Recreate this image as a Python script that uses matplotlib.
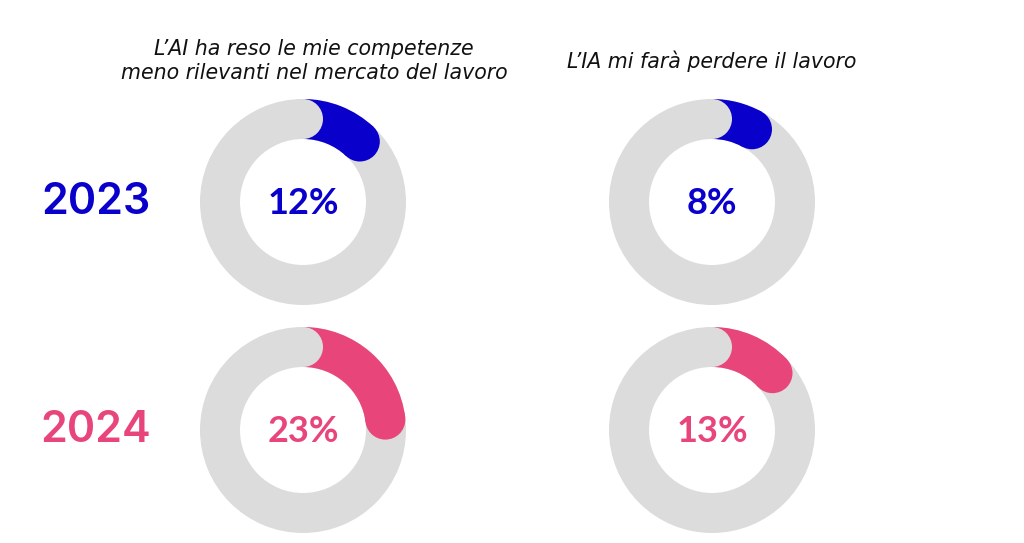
import matplotlib.pyplot as plt
from matplotlib.patches import Wedge, Circle
import numpy as np

years = ["2023", "2024"]
questions = ["L’AI ha reso le mie competenze\nmeno rilevanti nel mercato del lavoro",
             "L’IA mi farà perdere il lavoro"]
# rows = years, cols = questions
values = [[12, 8],
          [23, 13]]
year_colors = ["#0A00CC", "#E8467A"]
ring_gray = "#DCDCDC"

fig = plt.figure(figsize=(10.24, 5.43), dpi=100)
ax = fig.add_axes([0, 0, 1, 1])
ax.set_xlim(0, 1024)
ax.set_ylim(543, 0)
ax.set_aspect("equal")
ax.axis("off")

col_x = [303, 712]
row_y = [202, 430]
r_out = 103
width = 40
r_mid = r_out - width / 2


def point_at(cx, cy, deg):
    # deg measured clockwise from 12 o'clock, y axis points down
    a = np.radians(deg)
    return cx + r_mid * np.sin(a), cy - r_mid * np.cos(a)


for i, year in enumerate(years):
    for j in range(len(questions)):
        cx, cy = col_x[j], row_y[i]
        pct = values[i][j]
        sweep = pct / 100 * 360
        # full gray ring
        ax.add_patch(Wedge((cx, cy), r_out, 0, 360, width=width,
                           facecolor=ring_gray, edgecolor="none"))
        # coloured arc (angles in matplotlib are ccw from +x; y is flipped)
        t1 = -90
        t2 = -90 + sweep
        ax.add_patch(Wedge((cx, cy), r_out, t1, t2, width=width,
                           facecolor=year_colors[i], edgecolor="none"))
        ex, ey = point_at(cx, cy, sweep)
        ax.add_patch(Circle((ex, ey), width / 2, facecolor=year_colors[i],
                            edgecolor="none"))
        # gray round cap at the start, on top of the arc
        sx, sy = point_at(cx, cy, 0)
        ax.add_patch(Circle((sx, sy), width / 2, facecolor=ring_gray,
                            edgecolor="none"))
        ax.text(cx, cy + 1, f"{pct}%", ha="center", va="center",
                fontsize=26, fontweight="bold", color=year_colors[i],
                family="Lato")

    ax.text(96, row_y[i], year, ha="center", va="center", fontsize=31,
            fontweight="semibold", color=year_colors[i], family="Inter")

ax.text(314, 61, questions[0], ha="center", va="center", fontsize=14.8,
        style="italic", color="#111111", family="DejaVu Sans", linespacing=1.22)
ax.text(712, 61, questions[1], ha="center", va="center", fontsize=14.8,
        style="italic", color="#111111", family="DejaVu Sans")

fig.savefig("out.png", dpi=100)
